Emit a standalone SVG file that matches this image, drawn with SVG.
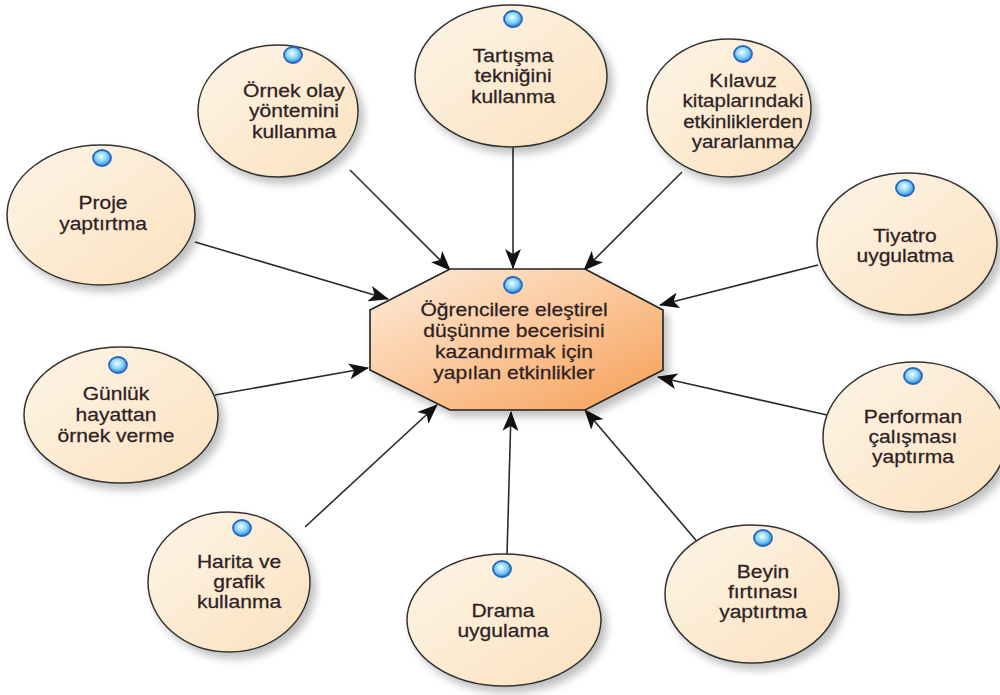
<svg xmlns="http://www.w3.org/2000/svg" width="1000" height="695" viewBox="0 0 1000 695">
<defs>
<style>
.el{fill:url(#eg);stroke:#333;stroke-width:1.5;filter:url(#sh)}
.t{font-family:"Liberation Sans",Arial,sans-serif;font-size:18px;fill:#2e2224;text-anchor:middle;stroke:#2e2224;stroke-width:0.25}
.c{stroke:#2a2a2a;stroke-width:1.6;fill:none;marker-end:url(#ah)}
.dot{fill:url(#dg);stroke:#2466c4;stroke-width:1.8}
</style>
<linearGradient id="eg" x1="0" y1="0" x2="1" y2="1">
<stop offset="0" stop-color="#fdf5e8"/>
<stop offset="1" stop-color="#fbe1bd"/>
</linearGradient>
<linearGradient id="og" x1="0" y1="0" x2="1" y2="1">
<stop offset="0" stop-color="#fdecdc"/>
<stop offset="0.5" stop-color="#fbc79a"/>
<stop offset="1" stop-color="#f59e55"/>
</linearGradient>
<radialGradient id="dg" cx="0.45" cy="0.4" r="0.6">
<stop offset="0" stop-color="#effcff"/>
<stop offset="0.55" stop-color="#86d3f5"/>
<stop offset="1" stop-color="#2f86dc"/>
</radialGradient>
<filter id="sh" x="-20%" y="-20%" width="150%" height="150%">
<feGaussianBlur in="SourceAlpha" stdDeviation="4"/>
<feOffset dx="5" dy="6" result="b"/>
<feComponentTransfer><feFuncA type="linear" slope="0.25"/></feComponentTransfer>
<feMerge><feMergeNode/><feMergeNode in="SourceGraphic"/></feMerge>
</filter>
<marker id="ah" viewBox="0 0 20 16" refX="19" refY="8" markerWidth="20" markerHeight="16" markerUnits="userSpaceOnUse" orient="auto">
<path d="M0,0 L20,8 L0,16 L5,8 Z" fill="#111"/>
</marker>
</defs>
<rect width="1000" height="695" fill="#ffffff"/>

<g id="connectors">
<line class="c" x1="195" y1="242" x2="388" y2="299"/>
<line class="c" x1="350" y1="170" x2="450" y2="270"/>
<line class="c" x1="513" y1="147" x2="513" y2="268"/>
<line class="c" x1="682" y1="172" x2="584" y2="270"/>
<line class="c" x1="818" y1="265" x2="660" y2="305"/>
<line class="c" x1="827" y1="415" x2="658" y2="377"/>
<line class="c" x1="700" y1="545" x2="585" y2="410"/>
<line class="c" x1="507" y1="555" x2="511" y2="412"/>
<line class="c" x1="305" y1="527" x2="437" y2="405"/>
<line class="c" x1="215" y1="395" x2="368" y2="368"/>
</g>

<g id="center">
<polygon points="450,269 585,269 663,310 663,370 585,410 450,410 370,370 370,310" fill="url(#og)" stroke="#222" stroke-width="1.6" filter="url(#sh)"/>
<ellipse class="dot" cx="513" cy="285" rx="9" ry="8"/>
<text class="t" transform="translate(514 0) scale(1.17 1)"><tspan x="0" y="316">Öğrencilere eleştirel</tspan><tspan x="0" y="337">düşünme becerisini</tspan><tspan x="0" y="358">kazandırmak için</tspan><tspan x="0" y="379">yapılan etkinlikler</tspan></text>
</g>

<g id="n-proje">
<ellipse class="el" cx="101" cy="215" rx="94" ry="70"/>
<ellipse class="dot" cx="102" cy="158" rx="9" ry="8"/>
<text class="t" transform="translate(103 0) scale(1.17 1)"><tspan x="0" y="209">Proje</tspan><tspan x="0" y="230">yaptırtma</tspan></text>
</g>

<g id="n-ornek">
<ellipse class="el" cx="278" cy="111" rx="80" ry="66"/>
<ellipse class="dot" cx="293" cy="55" rx="9" ry="8"/>
<text class="t" transform="translate(294 0) scale(1.17 1)"><tspan x="0" y="97">Örnek olay</tspan><tspan x="0" y="117">yöntemini</tspan><tspan x="0" y="138">kullanma</tspan></text>
</g>

<g id="n-tartisma">
<ellipse class="el" cx="511" cy="76" rx="96" ry="71"/>
<ellipse class="dot" cx="513" cy="19" rx="9" ry="8"/>
<text class="t" transform="translate(513 0) scale(1.17 1)"><tspan x="0" y="62">Tartışma</tspan><tspan x="0" y="82">tekniğini</tspan><tspan x="0" y="103">kullanma</tspan></text>
</g>

<g id="n-kilavuz">
<ellipse class="el" cx="729" cy="108" rx="82" ry="69"/>
<ellipse class="dot" cx="743" cy="54" rx="9" ry="8"/>
<text class="t" transform="translate(743 0) scale(1.14 1)"><tspan x="0" y="87">Kılavuz</tspan><tspan x="0" y="107">kitaplarındaki</tspan><tspan x="0" y="128">etkinliklerden</tspan><tspan x="0" y="148">yararlanma</tspan></text>
</g>

<g id="n-tiyatro">
<ellipse class="el" cx="907" cy="244" rx="90" ry="71"/>
<ellipse class="dot" cx="905" cy="188" rx="9" ry="8"/>
<text class="t" transform="translate(905 0) scale(1.17 1)"><tspan x="0" y="242">Tiyatro</tspan><tspan x="0" y="262">uygulatma</tspan></text>
</g>

<g id="n-performan">
<ellipse class="el" cx="915" cy="437" rx="92" ry="75"/>
<ellipse class="dot" cx="913" cy="376" rx="9" ry="8"/>
<text class="t" transform="translate(913 0) scale(1.17 1)"><tspan x="0" y="423">Performan</tspan><tspan x="0" y="443">çalışması</tspan><tspan x="0" y="463">yaptırma</tspan></text>
</g>

<g id="n-beyin">
<ellipse class="el" cx="752" cy="594" rx="87" ry="69"/>
<ellipse class="dot" cx="763" cy="538" rx="9" ry="8"/>
<text class="t" transform="translate(763 0) scale(1.17 1)"><tspan x="0" y="578">Beyin</tspan><tspan x="0" y="598">fırtınası</tspan><tspan x="0" y="618">yaptırtma</tspan></text>
</g>

<g id="n-drama">
<ellipse class="el" cx="504" cy="620" rx="97" ry="66"/>
<ellipse class="dot" cx="502" cy="569" rx="9" ry="8"/>
<text class="t" transform="translate(503 0) scale(1.17 1)"><tspan x="0" y="617">Drama</tspan><tspan x="0" y="637">uygulama</tspan></text>
</g>

<g id="n-harita">
<ellipse class="el" cx="229" cy="582" rx="81" ry="70"/>
<ellipse class="dot" cx="242" cy="528" rx="9" ry="8"/>
<text class="t" transform="translate(239 0) scale(1.17 1)"><tspan x="0" y="568">Harita ve</tspan><tspan x="0" y="588">grafik</tspan><tspan x="0" y="608">kullanma</tspan></text>
</g>

<g id="n-gunluk">
<ellipse class="el" cx="121" cy="415" rx="97" ry="68"/>
<ellipse class="dot" cx="118" cy="365" rx="9" ry="8"/>
<text class="t" transform="translate(116 0) scale(1.17 1)"><tspan x="0" y="400">Günlük</tspan><tspan x="0" y="421">hayattan</tspan><tspan x="0" y="442">örnek verme</tspan></text>
</g>
</svg>
